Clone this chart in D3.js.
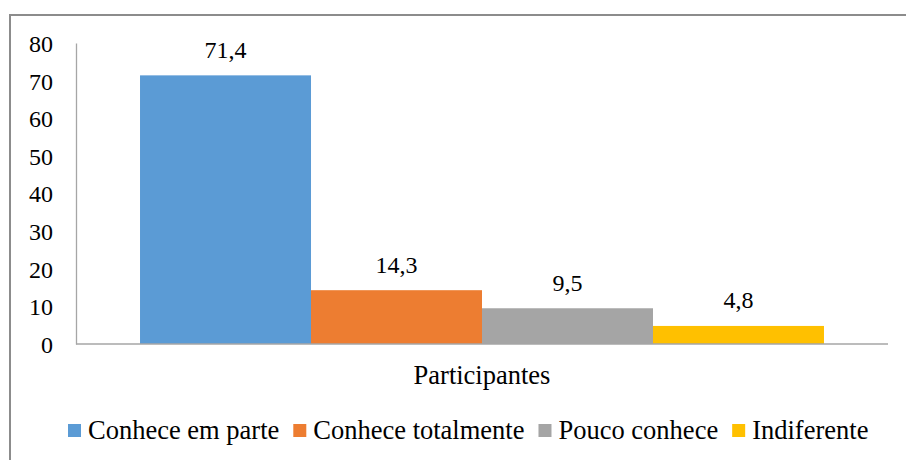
<!DOCTYPE html>
<html>
<head>
<meta charset="utf-8">
<script src="https://cdn.jsdelivr.net/npm/d3@7"></script>
<style>
  body { margin: 0; background: #fff; }
</style>
</head>
<body>
<div id="chart"></div>
<script>
// data
var group = ["Participantes"];
var series = ["Conhece em parte", "Conhece totalmente", "Pouco conhece", "Indiferente"];
var values = [71.4, 14.3, 9.5, 4.8];
var colors = ["#5B9BD5", "#ED7D31", "#A5A5A5", "#FFC000"];
var yTicks = [0, 10, 20, 30, 40, 50, 60, 70, 80];

var serif = "Liberation Serif";

function draw_chart(wrapper)
{
  var svg = d3.select(wrapper).append("svg")
    .attr("width", 906)
    .attr("height", 460)
    .attr("font-family", serif);

  // outer frame (right/bottom run off the picture)
  svg.append("rect")
    .attr("x", 10).attr("y", 15)
    .attr("width", 920).attr("height", 480)
    .attr("fill", "none")
    .attr("stroke", "#8c8c8c")
    .attr("stroke-width", 2);

  var plot = {left: 76, right: 888, top: 43, bottom: 344};

  var x0 = d3.scaleBand()
    .domain(group)
    .range([plot.left, plot.right])
    .paddingInner(0)
    .paddingOuter(0.0936);

  var x1 = d3.scaleBand()
    .domain(series)
    .range([0, x0.bandwidth()])
    .padding(0);

  var y = d3.scaleLinear()
    .domain([0, 80])
    .range([plot.bottom, plot.top]);

  // y axis
  var yAxis = d3.axisLeft(y)
    .tickValues(yTicks)
    .tickSize(0)
    .tickSizeOuter(0)
    .tickPadding(23)
    .tickFormat(d3.format("d"));

  svg.append("g")
    .attr("transform", "translate(" + plot.left + ",0)")
    .call(yAxis)
    .attr("font-family", serif)
    .call(g => g.select(".domain").attr("stroke", "#a6a6a6").attr("stroke-width", 1.3))
    .call(g => g.selectAll(".tick text")
      .attr("font-size", 24)
      .attr("fill", "#000")
      .attr("dy", "0.35em"));

  // bars
  var g = svg.append("g")
    .attr("transform", "translate(" + x0(group[0]) + ",0)");

  g.selectAll("rect")
    .data(series)
    .join("rect")
      .attr("x", d => x1(d))
      .attr("y", (d, i) => y(values[i]))
      .attr("width", x1.bandwidth())
      .attr("height", (d, i) => y(0) - y(values[i]))
      .attr("fill", (d, i) => colors[i]);

  // value labels
  g.selectAll("text.value")
    .data(series)
    .join("text")
      .attr("class", "value")
      .attr("x", d => x1(d) + x1.bandwidth() / 2)
      .attr("y", (d, i) => y(values[i]) - 17.5)
      .attr("text-anchor", "middle")
      .attr("font-size", 24)
      .text((d, i) => d3.format(".1f")(values[i]).replace(".", ","));

  // x axis baseline
  svg.append("line")
    .attr("x1", plot.left).attr("x2", plot.right)
    .attr("y1", y(0)).attr("y2", y(0))
    .attr("stroke", "#a6a6a6")
    .attr("stroke-width", 1.3);

  // category label
  svg.append("text")
    .attr("x", x0(group[0]) + x0.bandwidth() / 2)
    .attr("y", 384)
    .attr("text-anchor", "middle")
    .attr("font-size", 26.5)
    .text(group[0]);

  // legend
  var legend = svg.append("g").attr("transform", "translate(68,0)");
  var lx = 0;
  series.forEach(function(s, i) {
    legend.append("rect")
      .attr("x", lx).attr("y", 424)
      .attr("width", 13).attr("height", 13)
      .attr("fill", colors[i]);
    var t = legend.append("text")
      .attr("x", lx + 20)
      .attr("y", 438.5)
      .attr("font-size", 26.5)
      .text(s);
    lx += 20 + t.node().getComputedTextLength() + 14;
  });
}

draw_chart("#chart");
</script>
</body>
</html>
